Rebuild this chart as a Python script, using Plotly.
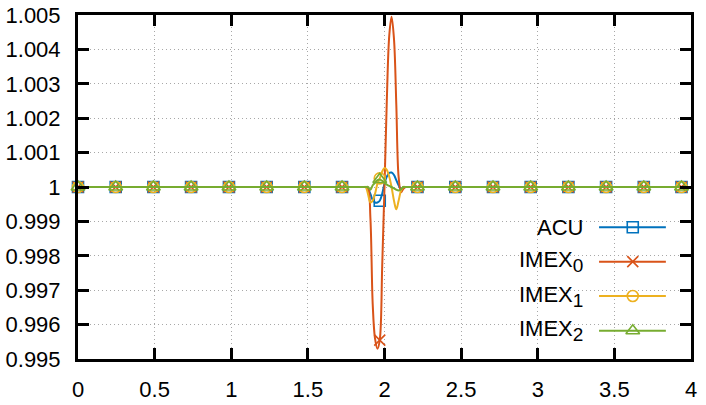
import plotly.graph_objects as go

# ---------------- data ----------------
x_curve = [0.0, 1.862, 1.877, 1.892, 1.908, 1.923, 1.938, 1.954, 1.969, 1.985, 2.000,
           2.015, 2.031, 2.046, 2.062, 2.077, 2.092, 2.108, 2.123, 2.138, 2.154, 4.0]
acu_curve = [1, 1, 1, 0.99995, 0.9998, 0.99962, 0.99955, 0.99955, 0.9996, 0.9998, 1.0001,
             1.0003, 1.00041, 1.00042, 1.00035, 1.0002, 1.00005, 0.99995, 1, 1, 1, 1]
imex0_curve = [1, 1, 1, 0.99998, 0.9991, 0.9966, 0.9956, 0.9953, 0.99555, 0.9977, 1.0,
               1.0025, 1.0044, 1.00495, 1.0043, 1.0024, 1.0003, 0.99985, 0.99995, 1, 1, 1]
imex1_curve = [1, 1, 1, 0.9998, 0.99955, 0.9996, 0.9998, 1.0001, 1.00025, 1.00045, 1.00055,
               1.0005, 1.0003, 1.0, 0.9996, 0.99935, 0.9996, 0.9999, 1, 1, 1, 1]
imex2_curve = [1, 1, 1, 1, 0.99992, 1.00005, 1.00012, 1.0002, 1.00022, 1.00018, 1.00012,
               1.00007, 1.00003, 1.0, 0.99996, 0.99992, 0.9999, 0.99993, 1, 1, 1, 1]

x_marks = [0.0, 0.246, 0.492, 0.738, 0.985, 1.231, 1.477, 1.723, 1.969, 2.215, 2.462,
           2.708, 2.954, 3.200, 3.446, 3.692, 3.938]
acu_marks = [1, 1, 1, 1, 1, 1, 1, 1, 0.9996, 1, 1, 1, 1, 1, 1, 1, 1]
imex0_marks = [1, 1, 1, 1, 1, 1, 1, 1, 0.99555, 1, 1, 1, 1, 1, 1, 1, 1]
imex1_marks = [1, 1, 1, 1, 1, 1, 1, 1, 1.00025, 1, 1, 1, 1, 1, 1, 1, 1]
imex2_marks = [1, 1, 1, 1, 1, 1, 1, 1, 1.00022, 1, 1, 1, 1, 1, 1, 1, 1]

names = ["ACU",
         "IMEX<sub><span style='font-size:19px'>0</span></sub>",
         "IMEX<sub><span style='font-size:19px'>1</span></sub>",
         "IMEX<sub><span style='font-size:19px'>2</span></sub>"]
colors = ["#0072bd", "#d95319", "#edb120", "#77ac30"]
symbols = ["square-open", "x-thin-open", "circle-open", "triangle-up-open"]
sizes = [11, 11, 11, 12]

curves = [acu_curve, imex0_curve, imex1_curve, imex2_curve]
marks = [acu_marks, imex0_marks, imex1_marks, imex2_marks]

FONT = "Liberation Sans, Arial, Helvetica, sans-serif"

fig = go.Figure()

for yc, ym, col, sym, sz in zip(curves, marks, colors, symbols, sizes):
    fig.add_trace(go.Scatter(x=x_curve, y=yc, mode="lines",
                             line=dict(color=col, width=2, shape="spline", smoothing=1.0),
                             showlegend=False, hoverinfo="skip"))
    fig.add_trace(go.Scatter(x=x_marks, y=ym, mode="markers", cliponaxis=False,
                             marker=dict(symbol=sym, size=sz, color=col,
                                         line=dict(color=col, width=1.6)),
                             showlegend=False, hoverinfo="skip"))

# ---------------- custom key (text left of sample, like gnuplot) ----------------
key_rows = [0.383, 0.283, 0.183, 0.082]
key_text_x = 0.827
key_line_x = [0.850, 0.959]
key_mark_x = 0.905

for nm, col, sym, sz, ry in zip(names, colors, symbols, sizes, key_rows):
    fig.add_trace(go.Scatter(x=key_line_x, y=[ry, ry], mode="lines", xaxis="x2", yaxis="y2",
                             line=dict(color=col, width=2), showlegend=False, hoverinfo="skip"))
    fig.add_trace(go.Scatter(x=[key_mark_x], y=[ry], mode="markers", xaxis="x2", yaxis="y2",
                             cliponaxis=False,
                             marker=dict(symbol=sym, size=sz, color=col,
                                         line=dict(color=col, width=1.6)),
                             showlegend=False, hoverinfo="skip"))
    fig.add_annotation(x=key_text_x, y=ry, xref="paper", yref="paper", text=nm,
                       showarrow=False, xanchor="right", yanchor="middle",
                       font=dict(family=FONT, size=22, color="black"))

# opaque key background (hides grid behind key)
fig.add_shape(type="path", xref="paper", yref="paper", layer="between",
              path="M 0.713 0 L 0.713 0.34 L 0.745 0.34 L 0.745 0.427 L 1 0.427 L 1 0 Z",
              fillcolor="white", line=dict(width=0))

axis_common = dict(showline=True, linecolor="black", linewidth=3, mirror="ticks",
                   ticks="inside", ticklen=11, tickwidth=3, tickcolor="black",
                   showgrid=True, gridcolor="#a8a8a8", gridwidth=1, griddash="1px,3px",
                   zeroline=False, automargin=False,
                   tickfont=dict(family=FONT, size=22, color="black"))

fig.update_layout(
    width=706, height=405,
    margin=dict(l=78, r=15, t=15, b=46, autoexpand=False),
    paper_bgcolor="white", plot_bgcolor="white",
    xaxis=dict(range=[0, 4], tick0=0, dtick=0.5, ticklabelstandoff=9, **axis_common),
    yaxis=dict(range=[0.995, 1.005], tick0=0.995, dtick=0.001, ticklabelstandoff=10,
               **axis_common),
    xaxis2=dict(overlaying="x", range=[0, 1], visible=False, automargin=False),
    yaxis2=dict(overlaying="y", range=[0, 1], visible=False, automargin=False),
    showlegend=False,
)

fig.write_html("out.html")
